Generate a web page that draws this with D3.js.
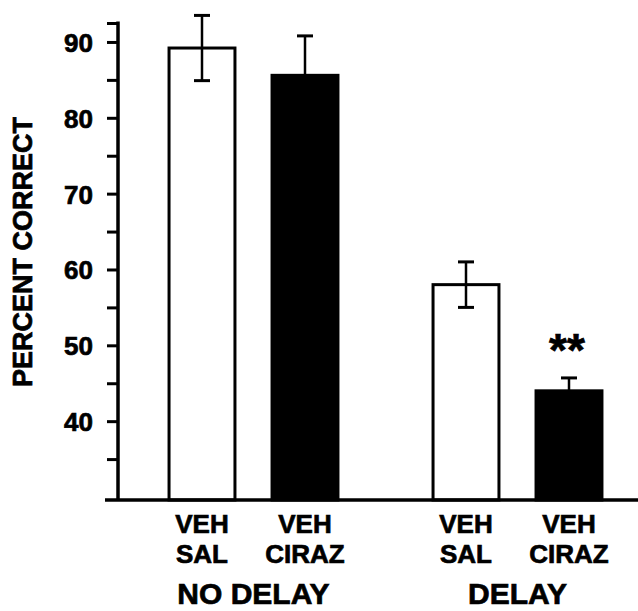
<!DOCTYPE html>
<html>
<head>
<meta charset="utf-8">
<script src="https://cdn.jsdelivr.net/npm/d3@7"></script>
<style>
  html, body { margin: 0; padding: 0; background: #fff; }
  svg text { font-family: "Liberation Sans", Arial, Helvetica, sans-serif; font-weight: bold; fill: #000; stroke: #000; stroke-width: 0.7px; }
</style>
</head>
<body>
<svg id="chart" width="638" height="611"></svg>
<script>
// Data
const groups = ['NO DELAY', 'DELAY'];
const conditions = ['SAL', 'CIRAZ'];
const fills = ['#fff', '#000'];
const means = [[89.2, 85.6], [58.0, 44.0]];
const errors = [[4.3, 5.2], [3.0, 1.7]];
const stars = [['', ''], ['', '**']];
const yTicks = [35, 40, 45, 50, 55, 60, 65, 70, 75, 80, 85, 90, 92.5];
const yLabelTicks = [40, 50, 60, 70, 80, 90];

const width = 638;
const height = 611;
const svg = d3.select('#chart');

// Scales
const y = d3.scaleLinear().domain([30, 92.5]).range([497, 23]);
const baseY = y(30) + 3;

const x0 = d3.scaleBand()
  .domain(groups)
  .range([150.5, 620.5])
  .paddingInner(58 / 264);

const x1 = d3.scaleBand()
  .domain(conditions)
  .range([0, x0.bandwidth()])
  .paddingInner(0.36)
  .paddingOuter(0.18);

const axisX = 118;

// Y axis
const yAxis = d3.axisLeft(y)
  .tickValues(yTicks)
  .tickSize(11)
  .tickPadding(14)
  .tickFormat(d => yLabelTicks.includes(d) ? d : '');

const gy = svg.append('g')
  .attr('transform', `translate(${axisX},0)`)
  .call(yAxis);
gy.select('.domain').remove();
gy.selectAll('.tick line').attr('stroke', '#000').attr('stroke-width', 3);
gy.selectAll('.tick text')
  .attr('font-size', '26px')
  .attr('dy', '0.36em')
  .style('font-family', '"Liberation Sans", Arial, sans-serif')
  .style('font-weight', 'bold');

svg.append('line')
  .attr('x1', axisX).attr('x2', axisX)
  .attr('y1', y(92.5) - 1.5).attr('y2', baseY)
  .attr('stroke', '#000').attr('stroke-width', 3.5);

// Y title
svg.append('text')
  .attr('transform', `translate(32,${252}) rotate(-90)`)
  .attr('text-anchor', 'middle')
  .attr('font-size', '27px')
  .text('PERCENT CORRECT');

// Bars
const rows = [];
groups.forEach((g, gi) => {
  conditions.forEach((c, ci) => {
    rows.push({ g, c, gi, ci, v: means[gi][ci], e: errors[gi][ci], star: stars[gi][ci] });
  });
});

const bar = svg.selectAll('.bar')
  .data(rows)
  .enter().append('g')
  .attr('class', 'bar')
  .attr('transform', d => `translate(${x0(d.g) + x1(d.c)},0)`);

const bw = x1.bandwidth();

bar.append('rect')
  .attr('x', 0)
  .attr('y', d => y(d.v))
  .attr('width', bw)
  .attr('height', d => baseY - y(d.v))
  .attr('fill', d => fills[d.ci])
  .attr('stroke', '#000')
  .attr('stroke-width', 3);

// Error bars
bar.append('line')
  .attr('x1', bw / 2).attr('x2', bw / 2)
  .attr('y1', d => y(d.v - d.e)).attr('y2', d => y(d.v + d.e))
  .attr('stroke', '#000').attr('stroke-width', 2.5);

bar.append('line')
  .attr('x1', bw / 2 - 8).attr('x2', bw / 2 + 8)
  .attr('y1', d => y(d.v + d.e)).attr('y2', d => y(d.v + d.e))
  .attr('stroke', '#000').attr('stroke-width', 3);

bar.append('line')
  .attr('x1', bw / 2 - 8).attr('x2', bw / 2 + 8)
  .attr('y1', d => y(d.v - d.e)).attr('y2', d => y(d.v - d.e))
  .attr('stroke', d => d.ci === 1 ? 'none' : '#000').attr('stroke-width', 3);

// Significance stars
bar.filter(d => d.star)
  .append('text')
  .attr('x', bw / 2 - 2)
  .attr('y', d => y(d.v + d.e) - 12)
  .attr('text-anchor', 'middle')
  .attr('font-size', '46px')
  .text(d => d.star);

// X axis baseline
svg.append('line')
  .attr('x1', 105).attr('x2', width)
  .attr('y1', baseY).attr('y2', baseY)
  .attr('stroke', '#000').attr('stroke-width', 3.5);

// Bar labels
bar.append('text')
  .attr('x', bw / 2)
  .attr('y', 533)
  .attr('text-anchor', 'middle')
  .attr('font-size', '26px')
  .text('VEH');

bar.append('text')
  .attr('x', bw / 2)
  .attr('y', 563)
  .attr('text-anchor', 'middle')
  .attr('font-size', '26px')
  .text(d => d.c);

// Group labels
svg.selectAll('.group-label')
  .data(groups)
  .enter().append('text')
  .attr('class', 'group-label')
  .attr('x', d => x0(d) + x0.bandwidth() / 2)
  .attr('y', 604)
  .attr('text-anchor', 'middle')
  .attr('font-size', '30px')
  .text(d => d);
</script>
</body>
</html>
